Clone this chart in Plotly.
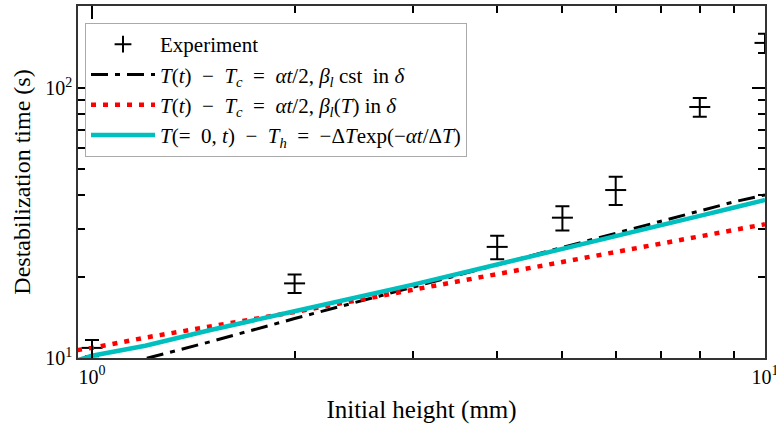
import plotly.graph_objects as go

# Experimental data (initial height in mm, destabilization time in s)
exp_x = [1, 2, 4, 5, 6, 8, 10]
exp_y = [10.9, 18.9, 25.8, 33.1, 41.9, 85.1, 147]
exp_err = [0.75, 1.5, 2.6, 3.4, 5.0, 6.8, 12]

# Model curves
model_x = [0.95, 1, 1.2, 1.5, 2, 3, 4, 5, 6, 7, 8, 9, 10]
black_y = [8.6, 8.8, 9.94, 11.5, 14.0, 18.3, 22.1, 25.7, 29.0, 32.1, 35.1, 37.9, 40.2]
red_y = [10.7, 10.9, 11.9, 13.1, 14.8, 17.9, 20.5, 22.7, 24.7, 26.5, 28.2, 29.8, 31.3]
cyan_y = [9.8, 10.2, 11.1, 12.7, 14.9, 18.7, 22.2, 25.3, 28.2, 30.9, 33.6, 36.1, 38.5]

E = "\u2002"  # en space, mimics TeX operator spacing
names = [
    "Experiment",
    f"<i>T</i>(<i>t</i>){E}−{E}<i>T</i><sub><i>c</i></sub>{E}={E}<i>αt</i>/2, <i>β</i><sub><i>l</i></sub> cst{E}in <i>δ</i>",
    f"<i>T</i>(<i>t</i>){E}−{E}<i>T</i><sub><i>c</i></sub>{E}={E}<i>αt</i>/2, <i>β</i><sub><i>l</i></sub>(<i>T</i>) in <i>δ</i>",
    f"<i>T</i>(={E}0, <i>t</i>){E}−{E}<i>T</i><sub><i>h</i></sub>{E}={E}−Δ<i>T</i>exp(−<i>αt</i>/Δ<i>T</i>)",
]

x_major = [1, 10]
x_major_text = ["10<sup>0</sup>", "10<sup>1</sup>"]
x_minor = [2, 3, 4, 5, 6, 7, 8, 9]
y_major = [10, 100]
y_major_text = ["10<sup>1</sup>", "10<sup>2</sup>"]
y_minor = [20, 30, 40, 50, 60, 70, 80, 90, 200]

FONT = "Liberation Serif"
X_RANGE = [-0.0208, 1.0]
Y_RANGE = [1.0, 2.304]

fig = go.Figure()

# legend-only entry for the experiment ("+" symbol)
fig.add_trace(go.Scatter(
    x=[None], y=[None], mode="markers", name=names[0],
    marker=dict(symbol="cross-thin", size=12, line=dict(color="black", width=2)),
))
# experimental points with error bars
fig.add_trace(go.Scatter(
    x=exp_x, y=exp_y, mode="markers", showlegend=False,
    marker=dict(symbol="line-ew", size=15, color="black", line=dict(color="black", width=2)),
    error_y=dict(type="data", array=exp_err, visible=True, color="black", thickness=2, width=7),
))
fig.add_trace(go.Scatter(
    x=model_x, y=black_y, mode="lines", name=names[1],
    line=dict(color="black", width=3, dash="17px,7px,5px,7px"),
))
fig.add_trace(go.Scatter(
    x=model_x, y=red_y, mode="lines", name=names[2],
    line=dict(color="#ff0000", width=4.5, dash="5px,7px"),
))
fig.add_trace(go.Scatter(
    x=model_x, y=cyan_y, mode="lines", name=names[3],
    line=dict(color="#00bfbf", width=4.5),
))
# empty trace that carries the overlay axes used for minor ticks
fig.add_trace(go.Scatter(
    x=[None], y=[None], xaxis="x2", yaxis="y2", showlegend=False, hoverinfo="skip",
))

axis_common = dict(
    type="log", showgrid=False, zeroline=False,
    showline=True, linecolor="#333333", linewidth=1.5, mirror="allticks",
    ticks="inside", tickwidth=2, tickcolor="black",
)
minor_common = dict(
    type="log", showgrid=False, zeroline=False, showline=False, mirror="ticks",
    ticks="inside", tickwidth=2, tickcolor="black", ticklen=7,
    tickmode="array", showticklabels=False,
)

fig.update_layout(
    xaxis=dict(
        **axis_common, range=X_RANGE, ticklen=13,
        tickvals=x_major, ticktext=x_major_text, ticklabeloverflow="allow",
        tickfont=dict(family=FONT, size=20, color="black"),
        title=dict(text="Initial height (mm)", font=dict(family=FONT, size=25, color="black"), standoff=14),
    ),
    yaxis=dict(
        **axis_common, range=Y_RANGE, ticklen=13,
        tickvals=y_major, ticktext=y_major_text, ticklabeloverflow="allow",
        tickfont=dict(family=FONT, size=20, color="black"),
        title=dict(text="Destabilization time (s)", font=dict(family=FONT, size=24, color="black"), standoff=8),
    ),
    xaxis2=dict(
        **minor_common, range=X_RANGE, overlaying="x", side="bottom", anchor="y2",
        tickvals=x_minor, ticktext=[""] * len(x_minor),
    ),
    yaxis2=dict(
        **minor_common, range=Y_RANGE, overlaying="y", side="left", anchor="x2",
        tickvals=y_minor, ticktext=[""] * len(y_minor),
    ),
    width=776, height=427,
    margin=dict(l=78, r=11, t=6, b=69, autoexpand=False),
    paper_bgcolor="white", plot_bgcolor="white",
    font=dict(family=FONT, color="black"),
    legend=dict(
        x=0.0102, y=0.9517, xanchor="left", yanchor="top",
        bgcolor="white", bordercolor="#aaaaaa", borderwidth=1,
        font=dict(family=FONT, size=21, color="black"),
        itemwidth=64, tracegroupgap=0,
    ),
)

fig.write_html("out.html")
